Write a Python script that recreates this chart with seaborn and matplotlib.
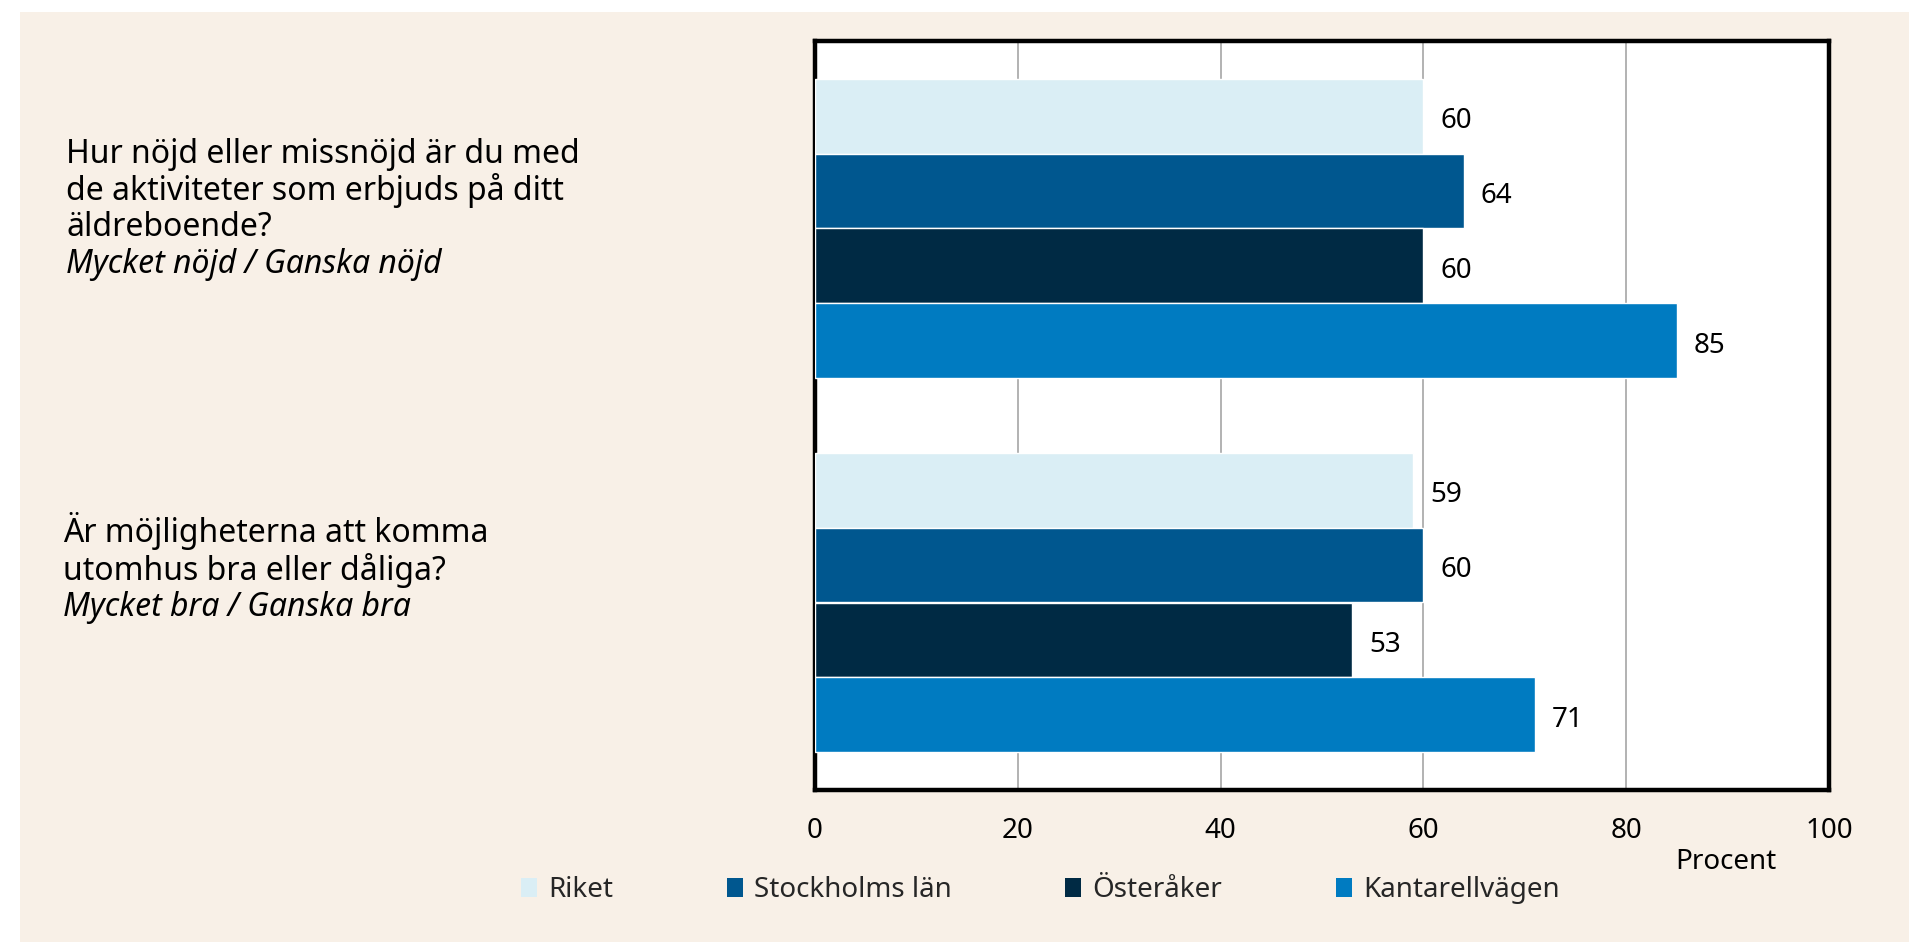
import seaborn as sns
import matplotlib.pyplot as plt
from matplotlib.patches import Rectangle, Patch
import pandas as pd

# data
questions = [
    "Hur nöjd eller missnöjd är du med\nde aktiviteter som erbjuds på ditt\näldreboende?",
    "Är möjligheterna att komma\nutomhus bra eller dåliga?",
]
answers = ["Mycket nöjd / Ganska nöjd", "Mycket bra / Ganska bra"]
regions = ["Riket", "Stockholms län", "Österåker", "Kantarellvägen"]
riket = [60, 59]
stockholm = [64, 60]
osteraker = [60, 53]
kantarell = [85, 71]
x_ticks = [0, 20, 40, 60, 80, 100]

colors = ["#DAEEF5", "#00578F", "#002A44", "#007BC1"]
beige = "#F8F0E7"

sns.set_theme(style="white")
plt.rcParams["font.family"] = ["Noto Sans", "DejaVu Sans"]

rows = []
for reg, vals in zip(regions, [riket, stockholm, osteraker, kantarell]):
    for q, v in zip(questions, vals):
        rows.append({"question": q, "region": reg, "value": v})
df = pd.DataFrame(rows)

fig = plt.figure(figsize=(19.09, 9.42), dpi=100, facecolor="white")
# beige panel (white strip left and top)
fig.patches.append(Rectangle((20 / 1909, 0), 1, 1 - 12 / 942, transform=fig.transFigure,
                             facecolor=beige, edgecolor="none", zorder=-10))

ax = fig.add_axes([815 / 1909, 1 - 789.5 / 942, 1014 / 1909, 748 / 942])
ax.set_facecolor("white")

sns.barplot(data=df, y="question", x="value", hue="region", orient="h",
            order=questions, hue_order=regions, palette=colors,
            saturation=1, width=0.8, gap=0, ax=ax, zorder=3)

# value labels right of each bar
for cont in ax.containers:
    for bar in cont:
        w = bar.get_width()
        ax.annotate(f"{w:.0f}", xy=(w, bar.get_y() + bar.get_height() / 2),
                    xytext=(12, -3.5), textcoords="offset points",
                    ha="left", va="center", fontsize=20, color="black")

ax.set_xlim(0, 100)
ax.set_xticks(x_ticks)
ax.set_xticklabels([str(t) for t in x_ticks], fontsize=20)
ax.tick_params(axis="x", length=0, pad=20, colors="black")
ax.tick_params(axis="y", left=False, labelleft=False)
ax.set_ylabel("")
ax.set_xlabel("Procent", fontsize=20, color="black")
ax.xaxis.set_label_coords(0.898, -0.078)

ax.xaxis.grid(True, color="#9E9E9E", linewidth=1.1)
ax.yaxis.grid(False)
ax.set_axisbelow(True)
for s in ax.spines.values():
    s.set_visible(True)
    s.set_color("black")
    s.set_linewidth(3.2)

# question texts on the left, line by line
text_x = [66 / 1909, 63 / 1909]
first_base = [65, 60]  # px above the group centre
step = [36.5, 37]
for i, (q, a) in enumerate(zip(questions, answers)):
    lines = q.split("\n") + [a]
    for k, line in enumerate(lines):
        off = (first_base[i] - k * step[i]) * 0.72
        ax.annotate(line, xy=(text_x[i], i), xycoords=(fig.transFigure, ax.transData),
                    xytext=(0, off), textcoords="offset points",
                    ha="left", va="baseline", fontsize=23, color="black",
                    style="italic" if k == len(lines) - 1 else "normal",
                    annotation_clip=False)

if ax.get_legend() is not None:
    ax.get_legend().remove()
handles = [Patch(facecolor=c, edgecolor="none") for c in colors]
fig.legend(handles, regions, loc="center left", bbox_to_anchor=(521 / 1909, 1 - 890 / 942),
           ncol=4, frameon=False, fontsize=20, handlelength=0.57, handleheight=0.7,
           handletextpad=0.4, columnspacing=4.1, borderpad=0, borderaxespad=0)

fig.savefig("out.png", dpi=100, facecolor=fig.get_facecolor())
